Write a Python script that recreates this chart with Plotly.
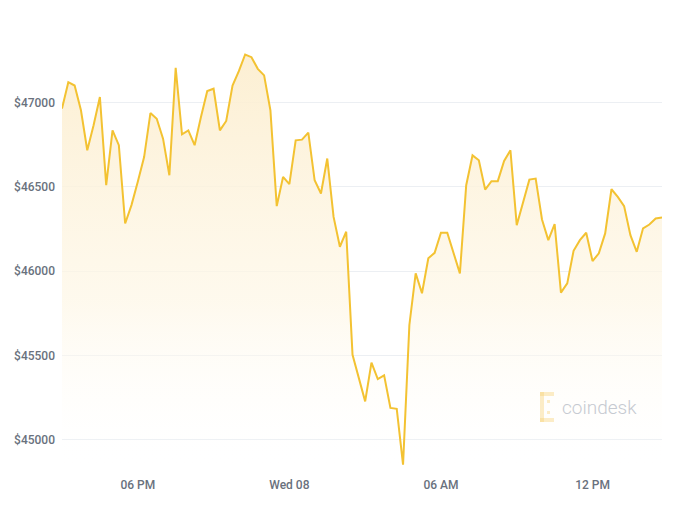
import pandas as pd
import plotly.graph_objects as go

# ---- data ----
start_time = "2021-09-07 15:00"
n_points = 96
step = "15min"
prices = [
    46963, 47120, 47100, 46953, 46716, 46864, 47032, 46509, 46834, 46746,
    46282, 46391, 46529, 46676, 46937, 46903, 46785, 46568, 47205, 46811,
    46834, 46746, 46913, 47067, 47081, 46834, 46890, 47100, 47185, 47284,
    47268, 47199, 47160, 46953, 46385, 46558, 46515, 46775, 46779, 46821,
    46538, 46460, 46667, 46321, 46144, 46233, 45503, 45365, 45227, 45457,
    45359, 45381, 45188, 45183, 44852, 45680, 45986, 45868, 46075, 46108,
    46227, 46227, 46105, 45986, 46509, 46686, 46657, 46483, 46533, 46533,
    46653, 46716, 46272, 46400, 46542, 46548, 46306, 46183, 46278, 45872,
    45927, 46120, 46183, 46227, 46059, 46105, 46223, 46485, 46440, 46385,
    46213, 46114, 46253, 46276, 46312, 46318,
]
times = pd.date_range(start_time, periods=n_points, freq=step)

x_tick_vals = ["2021-09-07 18:00", "2021-09-08 00:00", "2021-09-08 06:00", "2021-09-08 12:00"]
x_tick_text = ["06 PM", "Wed 08", "06 AM", "12 PM"]
y_tick_vals = [45000, 45500, 46000, 46500, 47000]
y_tick_text = ["$45000", "$45500", "$46000", "$46500", "$47000"]
y_range = [44820, 47370]

# ---- layout geometry (page body has an 8px margin) ----
OFF = 8
W, H = 680 - 2 * OFF, 510 - 2 * OFF
ML, MR, MT, MB = 62 - OFF, 680 - 662 - OFF, 40 - OFF, 510 - 470 - OFF
PW, PH = W - ML - MR, H - MT - MB


def px(xs):
    return (xs - OFF - ML) / PW


def py(ys):
    return (H - MB - (ys - OFF)) / PH


LINE = "#f3c232"
TICK_FONT = dict(family="Roboto, sans-serif", size=12, color="#69717d", weight=500)

fig = go.Figure()
fig.add_trace(go.Scatter(
    x=times, y=prices, mode="lines",
    line=dict(color=LINE, width=2),
    fill="tozeroy",
    fillgradient=dict(
        type="vertical", start=y_range[0], stop=47300,
        colorscale=[[0, "rgba(255,255,255,0)"], [0.4, "rgba(254,247,230,0.7)"], [1, "rgba(252,238,208,0.95)"]],
    ),
    hoverinfo="skip",
))

# watermark logo (decoration)
logo = "rgba(246,208,110,0.38)"
shapes = []
for (x0, y0, x1, y1) in [(540, 392, 544, 422), (540, 392, 554, 396), (540, 418, 554, 422),
                         (547, 400, 550, 403), (547, 411, 550, 414)]:
    shapes.append(dict(type="rect", xref="paper", yref="paper",
                       x0=px(x0), x1=px(x1), y0=py(y1), y1=py(y0),
                       fillcolor=logo, line=dict(width=0), layer="above"))

fig.update_layout(
    width=W, height=H,
    margin=dict(l=ML, r=MR, t=MT, b=MB, autoexpand=False),
    paper_bgcolor="white", plot_bgcolor="white",
    showlegend=False,
    shapes=shapes,
    annotations=[dict(text="coindesk", xref="paper", yref="paper",
                      x=px(560), y=py(407), xanchor="left", yanchor="middle",
                      showarrow=False,
                      font=dict(family="Roboto, sans-serif", size=19, weight=300, color="#c6cad1"))],
    xaxis=dict(
        range=[times[0], times[-1]], showgrid=False, zeroline=False, showline=False,
        tickvals=x_tick_vals, ticktext=x_tick_text, ticks="", tickfont=TICK_FONT,
        ticklabelstandoff=6,
    ),
    yaxis=dict(
        range=y_range, showgrid=True, gridcolor="#eceff3", gridwidth=1, zeroline=False,
        showline=False, tickvals=y_tick_vals, ticktext=y_tick_text, ticks="",
        tickfont=TICK_FONT, ticklabelstandoff=6,
    ),
)

fig.write_html("out.html")
